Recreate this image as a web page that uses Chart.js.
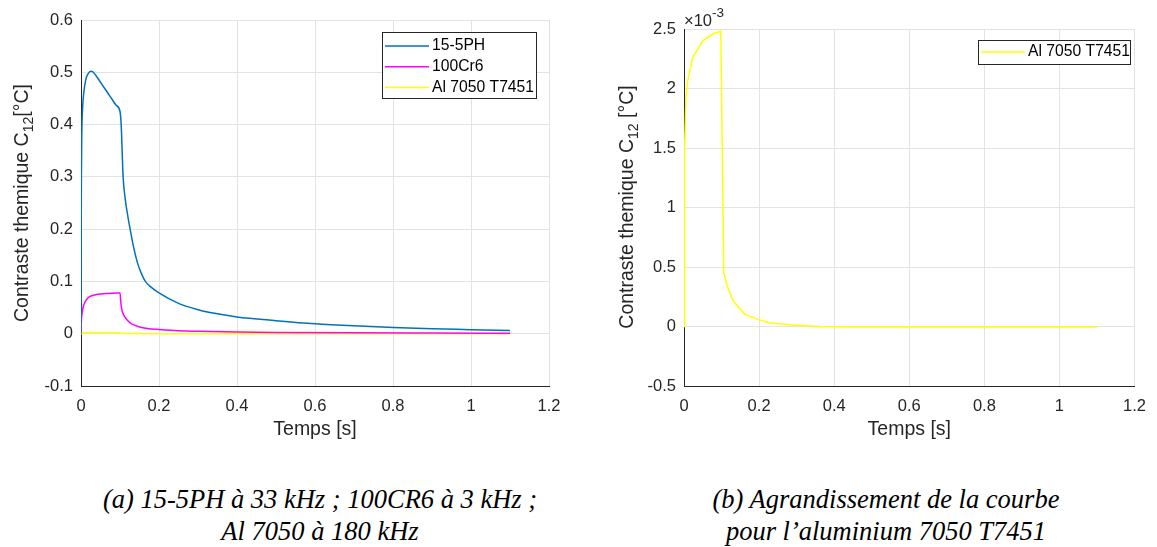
<!DOCTYPE html>
<html>
<head>
<meta charset="utf-8">
<script src="https://cdn.jsdelivr.net/npm/chart.js@4.4.0/dist/chart.umd.min.js"></script>
<style>
    body { margin: 0; background: #fff; width: 1157px; height: 547px; position: relative; overflow: hidden; }
    #chart-a { position: absolute; left: 0; top: 0; }
    #chart-b { position: absolute; left: 578px; top: 0; }
    .caption {
        position: absolute; top: 483px; width: 600px; text-align: center;
        font-family: "Liberation Serif", "Times New Roman", serif; font-style: italic;
        font-size: 26.5px; line-height: 32px; color: #000;
    }
</style>
</head>
<body>
<canvas id="chart-a" width="578" height="450"></canvas>
<canvas id="chart-b" width="579" height="450"></canvas>
<div class="caption" style="left:20px">(a) 15-5PH à 33 kHz ; 100CR6 à 3 kHz ;<br>Al 7050 à 180 kHz</div>
<div class="caption" style="left:586px">(b) Agrandissement de la courbe<br>pour l’aluminium 7050 T7451</div>
<script>
// 15-5PH (33 kHz)
const tPH = [0, 0.0005, 0.001, 0.002, 0.004, 0.007, 0.012, 0.018, 0.025, 0.03, 0.04, 0.05, 0.06, 0.07, 0.08, 0.09, 0.1,
    0.103, 0.108, 0.113, 0.12, 0.126, 0.135, 0.145, 0.155, 0.165, 0.175, 0.2, 0.25, 0.3, 0.35, 0.4, 0.5, 0.6, 0.7, 0.8, 0.9, 1.0, 1.1];
const cPH = [0, 0.2, 0.3, 0.38, 0.43, 0.46, 0.485, 0.497, 0.502, 0.501, 0.492, 0.481, 0.47, 0.459, 0.448, 0.437, 0.425,
    0.4, 0.3, 0.26, 0.225, 0.2, 0.165, 0.135, 0.115, 0.1, 0.092, 0.078, 0.058, 0.046, 0.038, 0.032, 0.025, 0.019, 0.015, 0.012, 0.0095, 0.0078, 0.006];

// 100Cr6 (3 kHz)
const tCr = [0, 0.001, 0.003, 0.006, 0.01, 0.015, 0.02, 0.03, 0.04, 0.05, 0.07, 0.085, 0.1,
    0.102, 0.105, 0.11, 0.12, 0.13, 0.15, 0.17, 0.2, 0.25, 0.3, 0.4, 0.5, 0.7, 0.9, 1.1];
const cCr = [0, 0.025, 0.04, 0.052, 0.06, 0.066, 0.07, 0.073, 0.075, 0.076, 0.077, 0.0775, 0.078,
    0.06, 0.045, 0.035, 0.025, 0.019, 0.013, 0.01, 0.008, 0.0055, 0.0045, 0.0032, 0.0025, 0.0017, 0.0013, 0.001];

// Al 7050 T7451 (180 kHz)
const tAl = [0, 0.0015, 0.005, 0.009, 0.023, 0.05, 0.078, 0.098, 0.106, 0.115, 0.132, 0.163, 0.197, 0.228, 0.3, 0.36, 0.45, 0.7, 1.1];
const cAl = [0, 0.0015, 0.0019, 0.00205, 0.00226, 0.0024, 0.00246, 0.00248, 0.00045, 0.00034, 0.00021, 0.0001, 0.00006, 0.00003, 0.00001, 0, -0.000005, -0.000005, -0.000005];

const xTicks = [0, 0.2, 0.4, 0.6, 0.8, 1, 1.2];
const yTicksA = [-0.1, 0, 0.1, 0.2, 0.3, 0.4, 0.5, 0.6];
const yTicksB = [-0.0005, 0, 0.0005, 0.001, 0.0015, 0.002, 0.0025];

const BLUE = "#0072BD";
const MAGENTA = "#FF00FF";
const YELLOW = "#FFFF00";
const AXIS = "#262626";
const GRID = "#e3e3e3";
const SANS = "'Liberation Sans', Arial, sans-serif";

function pts(t, c) {
    return t.map((v, i) => ({ x: v, y: c[i] }));
}

// titres d'axes (avec indice) + légende encadrée
const decor = {
    id: "decor",
    afterDraw(chart, args, o) {
        const ctx = chart.ctx;
        const area = chart.chartArea;
        ctx.save();
        ctx.fillStyle = AXIS;
        ctx.textBaseline = "middle";
        ctx.textAlign = "center";
        ctx.font = "19.5px " + SANS;
        ctx.fillText("Temps [s]", (area.left + area.right) / 2, 430);

        // titre Y, tourné
        ctx.save();
        ctx.translate(o.yTitleX, o.yTitleY);
        ctx.rotate(-Math.PI / 2);
        ctx.textAlign = "left";
        ctx.textBaseline = "alphabetic";
        const big = "19.5px " + SANS, small = "14px " + SANS;
        ctx.font = big;
        const w1 = ctx.measureText(o.yTitle[0]).width;
        const w3 = ctx.measureText(o.yTitle[2]).width;
        ctx.font = small;
        const w2 = ctx.measureText(o.yTitle[1]).width;
        let x = -(w1 + w2 + w3) / 2;
        ctx.font = big;
        ctx.fillText(o.yTitle[0], x, 7);
        ctx.font = small;
        ctx.fillText(o.yTitle[1], x + w1, 12);
        ctx.font = big;
        ctx.fillText(o.yTitle[2], x + w1 + w2, 7);
        ctx.restore();

        if (o.exponent) {
            ctx.textAlign = "left";
            ctx.font = "16.5px " + SANS;
            ctx.fillText("×10", area.left, 21);
            const w = ctx.measureText("×10").width;
            ctx.font = "13.5px " + SANS;
            ctx.fillText("-3", area.left + w, 13);
        }

        // légende
        const L = o.legend;
        ctx.fillStyle = "#fff";
        ctx.fillRect(L.x, L.y, L.w, L.h);
        ctx.strokeStyle = AXIS;
        ctx.lineWidth = 1;
        ctx.strokeRect(L.x + 0.5, L.y + 0.5, L.w, L.h);
        ctx.font = "15.7px " + SANS;
        ctx.textAlign = "left";
        ctx.textBaseline = "middle";
        chart.data.datasets.forEach((ds, i) => {
            const y = L.y + L.row0 + i * L.rowH;
            ctx.strokeStyle = ds.borderColor;
            ctx.lineWidth = 1.5;
            ctx.beginPath();
            ctx.moveTo(L.x + 3, y);
            ctx.lineTo(L.x + 47, y);
            ctx.stroke();
            ctx.fillStyle = "#000";
            ctx.fillText(ds.label, L.x + 50, y);
        });
        ctx.restore();
    }
};

function makeOptions(cfg) {
    return {
        responsive: false,
        animation: false,
        layout: { padding: { top: cfg.top, right: cfg.right, left: 0, bottom: 0 } },
        elements: { point: { radius: 0 }, line: { borderWidth: 1.5 } },
        plugins: {
            legend: { display: false },
            tooltip: { enabled: false },
            decor: cfg.decor,
        },
        scales: {
            x: {
                type: "linear", min: 0, max: 1.2,
                afterBuildTicks: (s) => { s.ticks = xTicks.map((v) => ({ value: v })); },
                afterFit: (s) => { s.height = 450 - 386; },
                ticks: {
                    padding: 11, color: AXIS, font: { family: SANS, size: 16.5 },
                    callback: (v) => String(Number(v.toFixed(2))),
                },
                grid: { color: GRID, drawTicks: false },
                border: { color: AXIS, width: 1 },
            },
            y: {
                type: "linear", min: cfg.yMin, max: cfg.yMax,
                afterBuildTicks: (s) => { s.ticks = cfg.yTicks.map((v) => ({ value: v })); },
                afterFit: (s) => { s.width = cfg.yWidth; },
                ticks: {
                    padding: 8, color: AXIS, font: { family: SANS, size: 16.5 },
                    callback: (v) => String(Number((v * cfg.yScale).toFixed(2))),
                },
                grid: { color: GRID, drawTicks: false },
                border: { color: AXIS, width: 1 },
            },
        },
    };
}

new Chart(document.getElementById("chart-a"), {
    type: "line",
    data: {
        datasets: [
            { label: "15-5PH", data: pts(tPH, cPH), borderColor: BLUE, cubicInterpolationMode: "monotone" },
            { label: "100Cr6", data: pts(tCr, cCr), borderColor: MAGENTA, cubicInterpolationMode: "monotone" },
            { label: "Al 7050 T7451", data: pts(tAl, cAl), borderColor: YELLOW },
        ],
    },
    options: makeOptions({
        top: 20, right: 29, yWidth: 81, yMin: -0.1, yMax: 0.6, yTicks: yTicksA, yScale: 1,
        decor: {
            yTitleX: 21, yTitleY: 203,
            yTitle: ["Contraste themique C", "12", "[°C]"],
            legend: { x: 382, y: 32, w: 154, h: 66, row0: 14, rowH: 20.7 },
        },
    }),
    plugins: [decor],
});

new Chart(document.getElementById("chart-b"), {
    type: "line",
    data: {
        datasets: [
            { label: "Al 7050 T7451", data: pts(tAl, cAl), borderColor: YELLOW },
        ],
    },
    options: makeOptions({
        top: 29, right: 16, yWidth: 106, yMin: -0.0005, yMax: 0.0025, yTicks: yTicksB, yScale: 1000,
        decor: {
            yTitleX: 48, yTitleY: 207,
            yTitle: ["Contraste themique C", "12", " [°C]"],
            exponent: true,
            legend: { x: 400, y: 40, w: 152, h: 24, row0: 12, rowH: 0 },
        },
    }),
    plugins: [decor],
});
</script>
</body>
</html>
